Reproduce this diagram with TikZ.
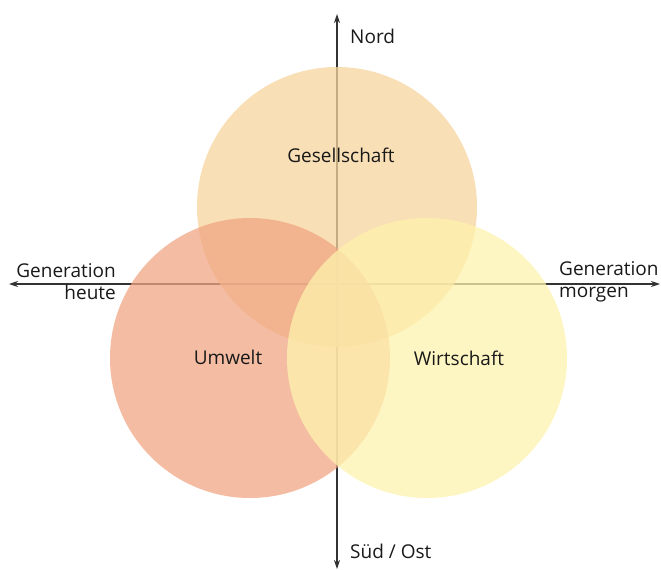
\documentclass[tikz,border=0pt]{standalone}
\usepackage{fontspec}
\setmainfont{Open Sans}
\usetikzlibrary{positioning}
\usetikzlibrary{arrows.meta}

\definecolor{gesColor}{RGB}{247,212,156}
\definecolor{umwColor}{RGB}{240,166,132}
\definecolor{wirColor}{RGB}{254,243,174}

\begin{document}
\begin{tikzpicture}[x=1pt, y=-1pt, font=\fontsize{19}{22}\selectfont]
        \tikzstyle{circle_style} = [circle, minimum size=280pt, inner sep=0pt, fill opacity=0.75, draw=none]
        \tikzstyle{axis_style} = [{Stealth[length=9pt,width=6pt]}-{Stealth[length=9pt,width=6pt]}, black!80, line width=1.1pt]
        \tikzstyle{label_style} = [text=black!90, inner sep=0pt]

        \useasboundingbox (0,0) rectangle (661,570);

        % axes
        \coordinate (north) at (337,14);
        \coordinate (south) at (337,569);
        \coordinate (west) at (9,284);
        \coordinate (east) at (660,284);
        \draw [axis_style] (south) -- (north);
        \draw [axis_style] (west) -- (east);

        % circles
        \node[circle_style, fill=gesColor] (ges) at (337,207) {};
        \node[circle_style, fill=umwColor] (umw) at (250,358) {};
        \node[circle_style, fill=wirColor] (wir) at (427,358) {};

        \node[label_style] (ges_text) at (341,155) {Gesellschaft};
        \node[label_style] (umw_text) at (228,357) {Umwelt};
        \node[label_style] (wir_text) at (459,358) {Wirtschaft};

        % axis labels
        \node[label_style, anchor=west] (nord) at (350,36) {Nord};
        \node[label_style, anchor=west] (sued) at (350,551) {Süd / Ost};
        \node[label_style, anchor=east, align=right] (heute) at (116,282) {Generation\\heute};
        \node[label_style, anchor=west, align=left] (morgen) at (559,282) {Generation\\morgen};
    \end{tikzpicture}
\end{document}
